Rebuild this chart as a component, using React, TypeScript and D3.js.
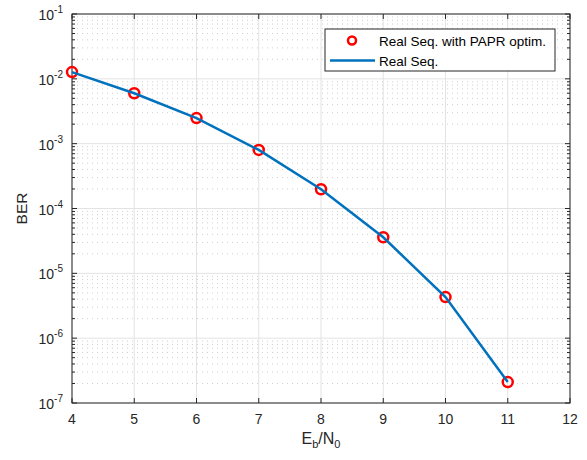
import React from "react";
import * as d3 from "d3";

const ebn0 = [4, 5, 6, 7, 8, 9, 10, 11];
const berPapr = [1.27e-2, 6.0e-3, 2.48e-3, 8.0e-4, 1.98e-4, 3.6e-5, 4.3e-6, 2.1e-7];
const berReal = [1.27e-2, 6.0e-3, 2.48e-3, 8.0e-4, 1.98e-4, 3.6e-5, 4.3e-6, 2.1e-7];
const xTicks = [4, 5, 6, 7, 8, 9, 10, 11, 12];
const yExps = [-7, -6, -5, -4, -3, -2, -1];
const legendLabels = ["Real Seq. with PAPR optim.", "Real Seq."];

export default function App() {
  const W = 587, H = 460;
  const m = { left: 72, top: 14, right: 570, bottom: 403 };
  const x = d3.scaleLinear().domain([4, 12]).range([m.left, m.right]);
  const y = d3.scaleLog().domain([1e-7, 1e-1]).range([m.bottom, m.top]);
  const font = "Arial, 'Liberation Sans', Helvetica, sans-serif";
  const axisCol = "#262626";

  const minors: number[] = [];
  for (let e = -7; e < -1; e++) for (let k = 2; k <= 9; k++) minors.push(k * Math.pow(10, e));

  const line = d3.line<number>().x((d, i) => x(ebn0[i])).y(d => y(d));

  return (
    <svg width={W} height={H} style={{ position: "absolute", left: 0, top: 0, background: "#fff", fontFamily: font }}>
      <rect x={m.left} y={m.top} width={m.right - m.left} height={m.bottom - m.top} fill="#fff" />
      {/* minor grid */}
      {minors.map(v => (
        <line key={"mg" + v} x1={m.left} x2={m.right} y1={y(v)} y2={y(v)} stroke="#cfcfcf" strokeWidth={1} strokeDasharray="1,4" />
      ))}
      {/* major grid */}
      {yExps.map(e => (
        <line key={"gy" + e} x1={m.left} x2={m.right} y1={y(Math.pow(10, e))} y2={y(Math.pow(10, e))} stroke="#e3e3e3" strokeWidth={1} />
      ))}
      {xTicks.map(t => (
        <line key={"gx" + t} x1={x(t)} x2={x(t)} y1={m.top} y2={m.bottom} stroke="#e3e3e3" strokeWidth={1} />
      ))}
      {/* ticks */}
      {xTicks.map(t => (
        <g key={"tx" + t}>
          <line x1={x(t)} x2={x(t)} y1={m.bottom} y2={m.bottom - 5} stroke={axisCol} />
          <line x1={x(t)} x2={x(t)} y1={m.top} y2={m.top + 5} stroke={axisCol} />
          <text x={x(t)} y={m.bottom + 21} textAnchor="middle" fontSize={14} fill={axisCol}>{t}</text>
        </g>
      ))}
      {yExps.map(e => {
        const yy = y(Math.pow(10, e));
        return (
          <g key={"ty" + e}>
            <line x1={m.left} x2={m.left + 5} y1={yy} y2={yy} stroke={axisCol} />
            <line x1={m.right} x2={m.right - 5} y1={yy} y2={yy} stroke={axisCol} />
            <text x={m.left - 9} y={yy + 6} textAnchor="end" fontSize={14} fill={axisCol}>
              10<tspan dy={-7} fontSize={10}>{e}</tspan>
            </text>
          </g>
        );
      })}
      {minors.map(v => (
        <g key={"mt" + v}>
          <line x1={m.left} x2={m.left + 3} y1={y(v)} y2={y(v)} stroke={axisCol} />
          <line x1={m.right} x2={m.right - 3} y1={y(v)} y2={y(v)} stroke={axisCol} />
        </g>
      ))}
      <rect x={m.left} y={m.top} width={m.right - m.left} height={m.bottom - m.top} fill="none" stroke={axisCol} strokeWidth={1} />
      {/* data */}
      {berPapr.map((v, i) => (
        <circle key={"p" + i} cx={x(ebn0[i])} cy={y(v)} r={5} fill="none" stroke="#ff0000" strokeWidth={2.5} />
      ))}
      <path d={line(berReal) || ""} fill="none" stroke="#0072bd" strokeWidth={2.5} />
      {/* legend */}
      <g>
        <rect x={325} y={29} width={230} height={42} fill="#fff" stroke={axisCol} strokeWidth={1} />
        <circle cx={352} cy={40.5} r={4} fill="none" stroke="#ff0000" strokeWidth={2.5} />
        <text x={379} y={45.5} fontSize={13.5} fill="#000">{legendLabels[0]}</text>
        <line x1={330} x2={375} y1={60.5} y2={60.5} stroke="#0072bd" strokeWidth={2.5} />
        <text x={379} y={65.5} fontSize={13.5} fill="#000">{legendLabels[1]}</text>
      </g>
      {/* axis labels */}
      <text transform={`translate(27,${(m.top + m.bottom) / 2}) rotate(-90)`} textAnchor="middle" fontSize={15.5} fill={axisCol}>BER</text>
      <text x={(m.left + m.right) / 2} y={444} textAnchor="middle" fontSize={16} fill={axisCol}>
        E<tspan dy={4} fontSize={11}>b</tspan><tspan dy={-4}>/N</tspan><tspan dy={4} fontSize={11}>0</tspan>
      </text>
    </svg>
  );
}
